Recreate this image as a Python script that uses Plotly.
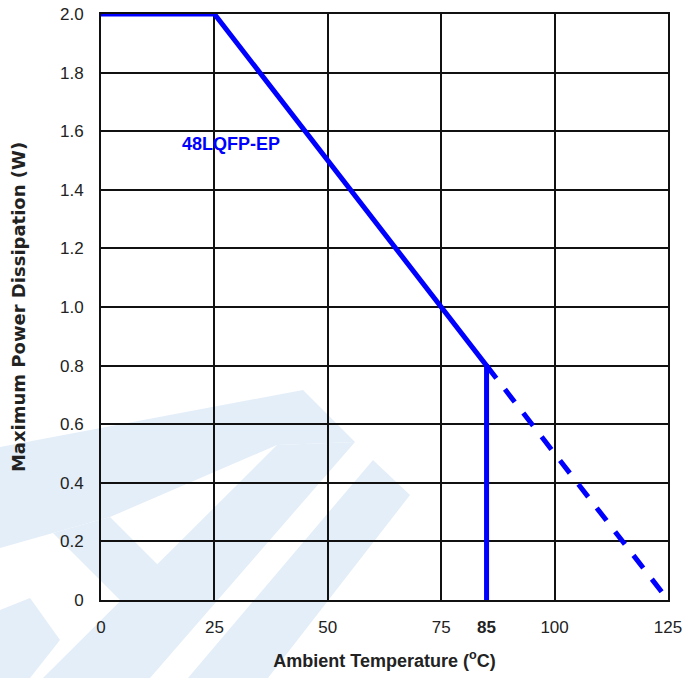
import plotly.graph_objects as go

# ---- data ----
temp_solid = [0, 25, 85, 85]
power_solid = [2.0, 2.0, 0.8, 0.0]
temp_dash = [85, 125]
power_dash = [0.8, 0.0]

x_tickvals = [0, 25, 50, 75, 85, 100, 125]
x_ticktext = ["0", "25", "50", "75", "<b>85</b>", "100", "125"]
x_gridvals = [25, 50, 75, 100]
y_tickvals = [0, 0.2, 0.4, 0.6, 0.8, 1.0, 1.2, 1.4, 1.6, 1.8, 2.0]
y_ticktext = ["0", "0.2", "0.4", "0.6", "0.8", "1.0", "1.2", "1.4", "1.6", "1.8", "2.0"]

label_text = "48LQFP-EP"
label_x, label_y = 28.7, 1.556

W, H = 687, 678
ML, MR, MT, MB = 101, 19, 14, 78
PW, PH = W - ML - MR, H - MT - MB

BLUE = "#0000ff"
WM = "#e4eef8"
FONT = "Liberation Sans, Arial, sans-serif"

def pp(pts):
    """pixel coords -> paper path"""
    s = ""
    for i, (px, py) in enumerate(pts):
        xp = (px - ML) / PW
        yp = (H - MB - py) / PH
        s += ("M" if i == 0 else "L") + f"{xp:.4f},{yp:.4f} "
    return s + "Z"

watermark = [
    [(0, 447), (303, 390), (355, 442), (277, 445), (110, 517), (53, 533), (0, 548)],
    [(277, 445), (355, 442), (150, 678), (43, 678)],
    [(53, 533), (110, 517), (165, 572), (128, 608)],
    [(373, 460), (410, 495), (268, 678), (188, 678)],
    [(0, 610), (30, 598), (60, 640), (30, 678), (0, 678)],
]

fig = go.Figure()
fig.add_trace(go.Scatter(x=temp_solid, y=power_solid, mode="lines",
                         line=dict(color=BLUE, width=5), hoverinfo="skip",
                         showlegend=False))
fig.add_trace(go.Scatter(x=temp_dash, y=power_dash, mode="lines",
                         line=dict(color=BLUE, width=5, dash="16px,14px"),
                         hoverinfo="skip", showlegend=False))

shapes = []
for poly in watermark:
    shapes.append(dict(type="path", path=pp(poly), xref="paper", yref="paper",
                       fillcolor=WM, line=dict(width=0), layer="below"))

fig.update_layout(
    width=W, height=H,
    margin=dict(l=ML, r=MR, t=MT, b=MB, autoexpand=False),
    paper_bgcolor="white", plot_bgcolor="rgba(0,0,0,0)",
    font=dict(family=FONT, size=17, color="#222"),
    shapes=shapes,
    showlegend=False,
    annotations=[dict(x=label_x, y=label_y, text=f"<b>{label_text}</b>",
                      showarrow=False, font=dict(color=BLUE, size=18, family=FONT))],
)
fig.update_xaxes(
    range=[0, 125], tickmode="array", tickvals=x_tickvals, ticktext=x_ticktext,
    showgrid=False, zeroline=False, showline=True, linecolor="#111", linewidth=2,
    mirror=True, ticks="", ticklabelstandoff=11, automargin=False,
    ticklabeloverflow="allow",
    tickfont=dict(size=17, color="#222"),
    minor=dict(tickmode="array", tickvals=x_gridvals, showgrid=True,
               gridcolor="#111", gridwidth=1.6),
    title=dict(text="<b>Ambient Temperature (<sup>o</sup>C)</b>", standoff=18,
               font=dict(size=18, color="#222")),
)
fig.update_yaxes(
    range=[0, 2.0], tickmode="array", tickvals=y_tickvals, ticktext=y_ticktext,
    showgrid=True, gridcolor="#111", gridwidth=1.6, zeroline=False,
    showline=True, linecolor="#111", linewidth=2, mirror=True, ticks="",
    ticklabelstandoff=12, automargin=False, ticklabeloverflow="allow",
    tickfont=dict(size=17, color="#222"),
    title=dict(text="<b>Maximum Power Dissipation (W)</b>", standoff=30,
               font=dict(size=18, color="#222", family="DejaVu Sans, sans-serif")),
)

fig.write_html("out.html", config={"displayModeBar": False},
               post_script="document.body.style.margin='0';document.body.style.overflow='hidden';")
